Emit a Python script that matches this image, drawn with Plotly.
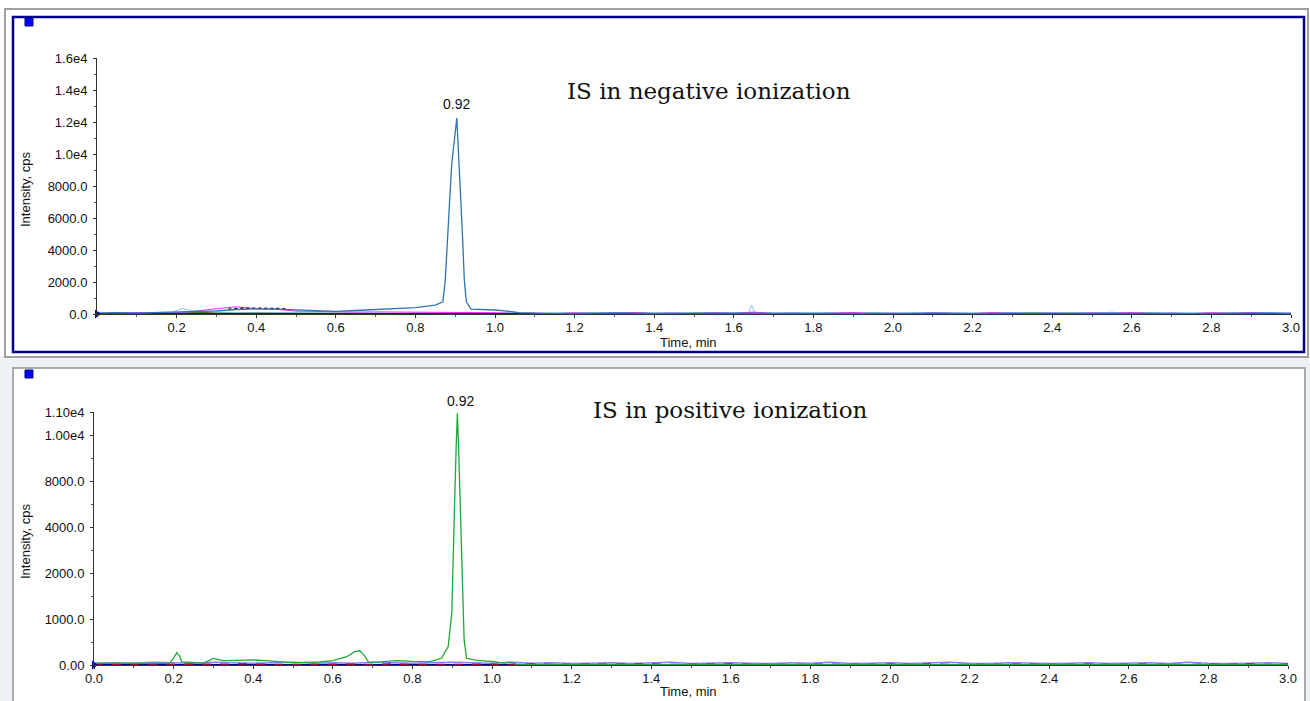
import plotly.graph_objects as go
import numpy as np

W, H = 1310, 701

# ---------------- DATA ----------------
# Top panel: IS in negative ionization (cps)
NEG_MAIN_T = [0.00, 0.05, 0.10, 0.15, 0.20, 0.25, 0.30, 0.35, 0.40, 0.45, 0.50, 0.55, 0.60, 0.65,
              0.70, 0.75, 0.80, 0.85, 0.869, 0.875, 0.883, 0.891, 0.904, 0.911, 0.917, 0.923, 0.928,
              0.94, 0.97, 1.00, 1.03, 1.06, 1.10, 1.20, 1.30, 1.40, 1.50, 1.60, 1.70, 1.80, 1.90,
              2.00, 2.10, 2.20, 2.30, 2.40, 2.50, 2.60, 2.70, 2.80, 2.90, 3.00]
NEG_MAIN_V = [60, 80, 50, 90, 120, 150, 200, 280, 320, 310, 260, 200, 160, 220,
              290, 340, 400, 560, 760, 2100, 5800, 9300, 12250, 9050, 5600, 2100, 760,
              300, 280, 250, 180, 90, 60, 40, 70, 30, 50, 40, 60, 30, 50,
              40, 60, 30, 50, 40, 60, 30, 50, 40, 60, 40]

NOISE_T = [0.00, 0.05, 0.10, 0.15, 0.20, 0.25, 0.30, 0.35, 0.40, 0.45, 0.50, 0.55, 0.60, 0.65, 0.70,
           0.75, 0.80, 0.85, 0.90, 0.95, 1.00, 1.05, 1.10, 1.15, 1.20, 1.25, 1.30, 1.35, 1.40, 1.45,
           1.50, 1.55, 1.60, 1.65, 1.70, 1.75, 1.80, 1.85, 1.90, 1.95, 2.00, 2.05, 2.10, 2.15, 2.20,
           2.25, 2.30, 2.35, 2.40, 2.45, 2.50, 2.55, 2.60, 2.65, 2.70, 2.75, 2.80, 2.85, 2.90, 2.95, 3.00]
NEG_MAGENTA_V = [60, 40, 90, 50, 80, 180, 330, 450, 330, 300, 180, 150, 130, 120, 130,
                 120, 140, 130, 120, 100, 80, 30, 60, 20, 70, 30, 50, 90, 30, 60,
                 20, 80, 40, 120, 30, 50, 20, 60, 90, 30, 50, 20, 70, 40, 30,
                 80, 40, 20, 60, 30, 70, 40, 90, 30, 50, 20, 80, 40, 90, 30, 50]
NEG_GREEN_V = [30, 50, 20, 40, 60, 90, 110, 80, 70, 100, 60, 40, 30, 50, 40,
               30, 50, 40, 30, 40, 50, 20, 40, 30, 60, 20, 40, 50, 30, 20,
               50, 30, 40, 60, 20, 30, 50, 40, 20, 60, 30, 40, 20, 50, 30,
               40, 20, 60, 30, 50, 20, 40, 30, 60, 20, 40, 30, 50, 20, 40, 30]
NEG_RED_V = [20, 30, 10, 40, 20, 30, 50, 40, 60, 50, 30, 20, 30, 20, 10,
             20, 30, 20, 10, 30, 20, 10, 30, 20, 10, 20, 30, 10, 20, 30,
             10, 20, 30, 20, 10, 30, 20, 10, 20, 30, 10, 20, 30, 10, 20,
             30, 10, 20, 30, 10, 20, 30, 20, 10, 30, 20, 10, 20, 30, 10, 20]

NEG_LIGHT_T = [0.00, 0.05, 0.10, 0.15, 0.19, 0.215, 0.24, 0.30, 0.35, 0.40, 0.45, 0.50, 0.55, 0.60,
               0.70, 0.80, 0.90, 1.00, 1.04, 1.06, 1.10, 1.20, 1.30, 1.40, 1.50, 1.60, 1.637, 1.645,
               1.653, 1.70, 1.80, 1.90, 2.00, 2.10, 2.20, 2.30, 2.40, 2.50, 2.55, 2.60, 2.70, 2.80,
               2.90, 2.95, 3.00]
NEG_LIGHT_V = [30, 50, 40, 60, 120, 350, 200, 120, 80, 60, 80, 70, 100, 60,
               40, 50, 60, 40, 110, 40, 30, 60, 40, 70, 30, 50, 60, 550,
               60, 40, 60, 30, 50, 70, 40, 60, 30, 50, 110, 40, 60, 40,
               70, 100, 40]

NEG_BLACK_T = [0.33, 0.36, 0.40, 0.44, 0.48]
NEG_BLACK_V = [300, 350, 360, 350, 330]

BASE_T = [0.0, 3.0]
BASE_V = [0, 0]

# Bottom panel: IS in positive ionization (cps)
POS_MAIN_T = [0.00, 0.05, 0.10, 0.15, 0.19, 0.20, 0.208, 0.215, 0.22, 0.24, 0.26, 0.274, 0.30, 0.325,
              0.36, 0.40, 0.44, 0.468, 0.50, 0.53, 0.568, 0.60, 0.635, 0.655, 0.668, 0.68, 0.69,
              0.72, 0.76, 0.80, 0.844, 0.873, 0.89, 0.899, 0.903, 0.906, 0.910, 0.913, 0.916,
              0.920, 0.925, 0.930, 0.936, 0.962, 1.00, 1.03, 1.045, 1.06, 1.10, 1.50, 2.00, 2.50, 3.00]
POS_MAIN_V = [36, 30, 40, 35, 36, 150, 270, 200, 70, 60, 40, 36, 145, 95,
              100, 110, 90, 70, 50, 55, 65, 95, 180, 290, 310, 200, 58,
              70, 95, 80, 72, 146, 400, 1130, 2400, 6000, 9500, 10940, 9500,
              5760, 1850, 540, 146, 100, 80, 40, 60, 20, 10, 10, 10, 10, 10]
POS_LAV_V = [40, 50, 40, 60, 50, 40, 60, 50, 40, 50, 60, 40, 50, 40, 60,
             50, 40, 50, 60, 50, 40, 60, 40, 50, 30, 40, 50, 30, 40, 60,
             30, 40, 50, 40, 30, 50, 40, 60, 30, 40, 50, 30, 40, 60, 40,
             30, 50, 40, 30, 40, 50, 30, 40, 50, 30, 60, 40, 30, 40, 50, 30]
POS_RED_V = [15, 10, 20, 10, 15, 20, 10, 15, 20, 10, 15, 20, 10, 15, 10,
             20, 10, 15, 20, 10, 15, 10, 20, 10, 15, 20, 10, 15, 20, 10,
             15, 10, 20, 10, 15, 20, 10, 15, 10, 20, 15, 10, 20, 10, 15,
             20, 10, 15, 10, 20, 15, 10, 20, 15, 10, 20, 15, 10, 20, 10, 15]

NEG_Y_TICKS = [0, 2000, 4000, 6000, 8000, 10000, 12000, 14000, 16000]
NEG_Y_LABELS = ["0.0", "2000.0", "4000.0", "6000.0", "8000.0", "1.0e4", "1.2e4", "1.4e4", "1.6e4"]
POS_Y_TICKS = [0, 1000, 2000, 4000, 8000, 10000, 11000]
POS_Y_LABELS = ["0.00", "1000.0", "2000.0", "4000.0", "8000.0", "1.00e4", "1.10e4"]
X_TICKS_TOP = [0.2, 0.4, 0.6, 0.8, 1.0, 1.2, 1.4, 1.6, 1.8, 2.0, 2.2, 2.4, 2.6, 2.8, 3.0]
X_TICKS_BOT = [0.0] + X_TICKS_TOP

PEAK_LABEL = "0.92"
TITLE_NEG = "IS in negative ionization"
TITLE_POS = "IS in positive ionization"
X_TITLE = "Time, min"
Y_TITLE = "Intensity, cps"

# The bottom panel's intensity axis is drawn with unevenly spaced labels:
# equal spacing between the printed tick values.
POS_AXIS_POS = [0, 1, 2, 3, 4, 5, 5.5]


def pos_scale(v):
    return list(np.interp(v, POS_Y_TICKS, POS_AXIS_POS))


# ---------------- LAYOUT HELPERS (window pixels -> paper) ----------------
def px(x):
    return x / W


def py(y):
    return 1 - y / H


fig = go.Figure()

# ----- top panel traces -----
top = dict(xaxis="x", yaxis="y")
fig.add_trace(go.Scatter(x=NOISE_T, y=NEG_GREEN_V, mode="lines", line=dict(color="#1f7a1f", width=1), **top))
fig.add_trace(go.Scatter(x=NOISE_T, y=NEG_RED_V, mode="lines", line=dict(color="#e01010", width=1.2, dash="dash"), **top))
fig.add_trace(go.Scatter(x=NEG_LIGHT_T, y=NEG_LIGHT_V, mode="lines", line=dict(color="#8ec0ea", width=1), **top))
fig.add_trace(go.Scatter(x=NOISE_T, y=NEG_MAGENTA_V, mode="lines", line=dict(color="#ff22ff", width=1), **top))
fig.add_trace(go.Scatter(x=NEG_BLACK_T, y=NEG_BLACK_V, mode="lines", line=dict(color="#111111", width=1.5, dash="dot"), **top))
fig.add_trace(go.Scatter(x=BASE_T, y=BASE_V, mode="lines", line=dict(color="#1010c0", width=2), **top))
fig.add_trace(go.Scatter(x=NEG_MAIN_T, y=NEG_MAIN_V, mode="lines", line=dict(color="#2f74b0", width=1.3), **top))
fig.add_trace(go.Scatter(x=[BASE_T[0]], y=[BASE_V[0]], mode="markers", cliponaxis=False,
                         marker=dict(symbol="triangle-right", size=8, color="#0000c0"), **top))

# ----- bottom panel traces -----
bot = dict(xaxis="x2", yaxis="y2")
fig.add_trace(go.Scatter(x=NOISE_T, y=pos_scale(POS_LAV_V), mode="lines", line=dict(color="#8080ff", width=1.5), **bot))
fig.add_trace(go.Scatter(x=BASE_T, y=pos_scale(BASE_V), mode="lines", line=dict(color="#000090", width=2), **bot))
fig.add_trace(go.Scatter(x=NOISE_T, y=pos_scale(POS_RED_V), mode="lines", line=dict(color="#a0003c", width=1.5, dash="dash"), **bot))
fig.add_trace(go.Scatter(x=POS_MAIN_T, y=pos_scale(POS_MAIN_V), mode="lines", line=dict(color="#22a838", width=1.3), **bot))
fig.add_trace(go.Scatter(x=[BASE_T[0]], y=pos_scale([BASE_V[0]]), mode="markers", cliponaxis=False,
                         marker=dict(symbol="triangle-right", size=8, color="#0000c0"), **bot))

tickfont = dict(family="Liberation Sans, Arial", size=13, color="#111111")
common_x = dict(range=[0, 3], showline=True, linecolor="#333333", linewidth=1, ticks="outside", ticklen=3,
                tickcolor="#333333", showgrid=False, zeroline=False, tickfont=tickfont, automargin=False,
                ticklabelstandoff=-2,
                minor=dict(dtick=0.1, tick0=0, ticks="outside", ticklen=2, tickcolor="#555555"))
common_y = dict(showline=True, linecolor="#333333", linewidth=1, ticks="outside", ticklen=3,
                tickcolor="#333333", showgrid=False, zeroline=False, tickfont=tickfont, tickmode="array",
                automargin=False, ticklabelstandoff=3)

fig.update_layout(
    width=W, height=H, margin=dict(l=0, r=0, t=0, b=0, autoexpand=False),
    paper_bgcolor="white", plot_bgcolor="rgba(0,0,0,0)", showlegend=False,
    xaxis=dict(common_x, domain=[px(97), px(1291)], anchor="y", tickmode="array", tickvals=X_TICKS_TOP,
               ticktext=[f"{v:.1f}" for v in X_TICKS_TOP]),
    yaxis=dict(common_y, domain=[py(314), py(58)], range=[0, 16000], anchor="x",
               tickvals=NEG_Y_TICKS, ticktext=NEG_Y_LABELS,
               minor=dict(tickmode="array", tickvals=[1000, 3000, 5000, 7000, 9000, 11000, 13000, 15000],
                          ticks="outside", ticklen=2, tickcolor="#555555")),
    xaxis2=dict(common_x, domain=[px(94), px(1288)], anchor="y2", tickmode="array", tickvals=X_TICKS_BOT,
                ticktext=[f"{v:.1f}" for v in X_TICKS_BOT]),
    yaxis2=dict(common_y, domain=[py(665), py(412)], range=[0, 5.5], anchor="x2",
                tickvals=pos_scale(POS_Y_TICKS), ticktext=POS_Y_LABELS,
                minor=dict(tickmode="array", tickvals=[0.5, 1.5, 2.5, 3.5, 4.5],
                           ticks="outside", ticklen=2, tickcolor="#555555")),
)

shapes = [
    # bottom band background
    dict(type="rect", xref="paper", yref="paper", x0=0, x1=1, y0=0, y1=py(356),
         fillcolor="#eef1f6", line=dict(width=0), layer="below"),
    dict(type="rect", xref="paper", yref="paper", x0=px(13), x1=px(1305), y0=py(712), y1=py(368),
         fillcolor="white", line=dict(color="#aaaaaa", width=2), layer="below"),
    # top panel frames
    dict(type="rect", xref="paper", yref="paper", x0=px(5), x1=px(1308), y0=py(357), y1=py(9),
         fillcolor="rgba(0,0,0,0)", line=dict(color="#a0a0a0", width=2), layer="below"),
    dict(type="rect", xref="paper", yref="paper", x0=px(13), x1=px(1304), y0=py(352), y1=py(17),
         fillcolor="rgba(0,0,0,0)", line=dict(color="#00008b", width=2.5), layer="below"),
    # small blue squares
    dict(type="rect", xref="paper", yref="paper", x0=px(25), x1=px(33), y0=py(26), y1=py(18),
         fillcolor="#0000ff", line=dict(color="#000080", width=1)),
    dict(type="rect", xref="paper", yref="paper", x0=px(25), x1=px(33), y0=py(378), y1=py(370),
         fillcolor="#0000ff", line=dict(color="#000080", width=1)),
]
fig.update_layout(shapes=shapes)

lab_font = dict(family="Liberation Sans, Arial", size=13, color="#111111")
serif_font = dict(family="DejaVu Serif", size=23, color="#111111")
annotations = [
    dict(text=TITLE_NEG, xref="paper", yref="paper", x=px(709), y=py(91), showarrow=False,
         xanchor="center", yanchor="middle", font=serif_font),
    dict(text=TITLE_POS, xref="paper", yref="paper", x=px(730), y=py(410), showarrow=False,
         xanchor="center", yanchor="middle", font=serif_font),
    dict(text=Y_TITLE, xref="paper", yref="paper", x=px(25), y=py(190), showarrow=False, textangle=-90,
         xanchor="center", yanchor="middle", font=lab_font),
    dict(text=Y_TITLE, xref="paper", yref="paper", x=px(25), y=py(542), showarrow=False, textangle=-90,
         xanchor="center", yanchor="middle", font=lab_font),
    dict(text=X_TITLE, xref="paper", yref="paper", x=px(689), y=py(343), showarrow=False,
         xanchor="center", yanchor="middle", font=lab_font),
    dict(text=X_TITLE, xref="paper", yref="paper", x=px(689), y=py(691), showarrow=False,
         xanchor="center", yanchor="middle", font=lab_font),
    dict(text=PEAK_LABEL, xref="x", yref="y", x=NEG_MAIN_T[int(np.argmax(NEG_MAIN_V))], y=max(NEG_MAIN_V),
         showarrow=False, xanchor="center", yanchor="bottom", yshift=4,
         font=dict(family="Liberation Sans, Arial", size=14, color="#111111")),
    dict(text=PEAK_LABEL, xref="x2", yref="y2", x=POS_MAIN_T[int(np.argmax(POS_MAIN_V))],
         y=pos_scale([max(POS_MAIN_V)])[0],
         showarrow=False, xanchor="center", yanchor="bottom", yshift=2, xshift=3,
         font=dict(family="Liberation Sans, Arial", size=14, color="#111111")),
]
fig.update_layout(annotations=annotations)

# Remove the browser's default body margin so the 1310x701 figure fills the window exactly.
fig.write_html("out.html", config={"displayModeBar": False},
               post_script="document.body.style.margin='0';document.body.style.overflow='hidden';")
